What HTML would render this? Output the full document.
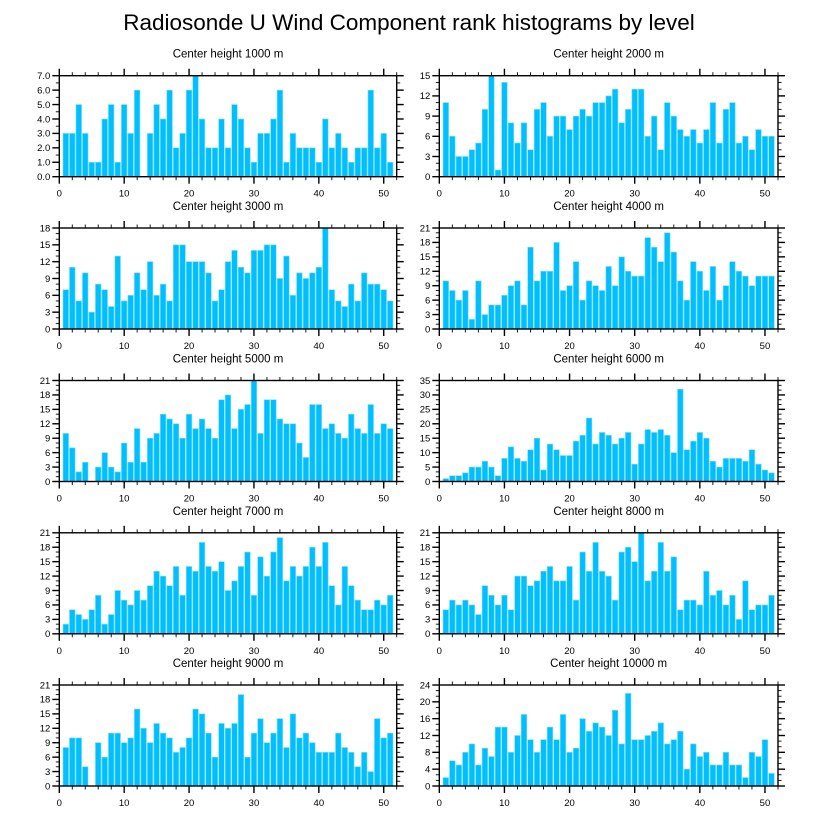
<!DOCTYPE html>
<html><head><meta charset="utf-8"><style>
body{margin:0;background:#fff;}
svg{display:block;font-family:"Liberation Sans",sans-serif;}
</style></head><body>
<svg id="chart" width="818" height="824">
<text x="409" y="30" text-anchor="middle" font-size="22.5">Radiosonde U Wind Component rank histograms by level</text>
</svg>
<script>
const levels = ["1000","2000","3000","4000","5000","6000","7000","8000","9000","10000"];
const yMax = [7,15,18,21,21,35,21,21,21,24];
const yStep = [1,3,3,3,3,5,3,3,3,4];
const h1000 = [3,3,5,3,1,1,4,5,1,5,3,6,0,3,5,4,6,2,3,6,7,4,2,2,4,2,5,4,2,1,3,3,4,6,1,3,2,2,2,1,4,2,3,2,1,2,2,6,2,3,1];
const h2000 = [11,6,3,3,4,5,10,15,1,14,8,5,8,4,10,11,6,9,9,7,9,10,9,11,11,12,13,8,10,13,13,6,9,4,11,9,7,6,7,5,7,11,5,10,11,5,6,4,7,6,6];
const h3000 = [7,11,5,10,3,8,7,4,13,5,6,10,7,12,6,8,5,15,15,12,12,12,10,5,7,12,14,11,10,14,14,15,15,9,13,6,10,9,10,11,18,7,5,4,8,5,10,8,8,7,5];
const h4000 = [10,8,6,8,2,10,3,5,5,7,9,10,5,17,10,12,12,18,8,9,14,6,10,9,8,13,9,15,12,11,11,19,17,14,20,16,10,6,14,12,8,13,6,9,14,12,11,9,11,11,11];
const h5000 = [10,7,2,4,0,3,6,3,2,8,4,11,4,9,10,14,13,12,9,14,11,13,11,9,17,18,11,15,16,21,10,17,17,13,12,12,8,5,16,16,11,12,10,9,14,11,10,16,10,12,11];
const h6000 = [1,2,2,3,5,5,7,5,2,8,12,8,7,11,15,4,13,11,9,9,14,16,22,13,17,16,13,15,17,6,13,18,17,18,16,10,32,11,14,17,15,7,5,8,8,8,7,11,6,4,3];
const h7000 = [2,5,4,3,5,8,2,4,9,7,6,9,7,10,13,12,10,14,8,14,13,19,14,13,15,9,11,14,17,8,16,12,17,20,11,14,12,14,18,14,19,10,6,14,10,7,5,5,7,6,8];
const h8000 = [5,7,6,7,6,4,10,8,6,8,5,12,12,10,11,13,14,11,11,14,7,17,13,19,13,12,7,17,18,15,21,11,13,19,13,16,5,7,7,6,13,8,9,6,8,3,11,5,6,6,8];
const h9000 = [8,10,10,4,0,9,6,11,11,9,10,16,12,9,13,11,10,7,8,10,16,15,11,6,13,12,13,19,6,11,14,9,11,14,8,15,10,11,9,7,7,7,11,8,7,4,7,3,14,10,11];
const h10000 = [2,6,5,8,10,5,9,7,14,14,8,12,17,11,8,11,14,11,17,8,9,16,13,15,14,12,18,10,22,11,11,12,13,15,10,11,13,4,10,7,8,5,5,8,5,5,2,8,7,11,3];
const xTicks = [0,10,20,30,40,50];
const allData = [h1000,h2000,h3000,h4000,h5000,h6000,h7000,h8000,h9000,h10000];

const NS="http://www.w3.org/2000/svg";
const svg=document.getElementById('chart');
function mk(tag,attrs,parent){const e=document.createElementNS(NS,tag);for(const k in attrs)e.setAttribute(k,attrs[k]);(parent||svg).appendChild(e);return e;}
const colX=[59.3,439.3], pw=[337.4,338.7], rowY=[75.7,228,380.5,532.8,685], ph=101;
const XMAX=52;
allData.forEach((data,i)=>{
  const col=i%2,row=Math.floor(i/2);
  const L=colX[col],T=rowY[row],W=pw[col],B=T+ph;
  const g=mk('g',{});
  
  
  const xs=v=>L+v/XMAX*W, ys=v=>B-v/yMax[i]*ph;
  const st=mk('text',{x:L+W/2,y:T-18,'text-anchor':'middle','font-size':'11.5'},g);
  st.textContent='Center height '+levels[i]+' m';
  
  
  const bw=0.86*W/XMAX;
  data.forEach((v,k)=>{
    if(v<=0)return;
    const r=mk('rect',{x:xs(k+1)-bw/2,y:ys(v),width:bw,height:B-ys(v),fill:'#00bfff',stroke:'#7fdcff','stroke-width':'0.6'},g);
    
    
  });
  const fr=mk('rect',{x:L,y:T,width:W,height:ph,fill:'none',stroke:'#000','stroke-width':'1.4'},g);
  
  
  for(let v=0;v<=XMAX;v+=2){
    const maj=v%10===0, len=maj?7:3.5, x=xs(v);
    mk('line',{x1:x,x2:x,y1:B,y2:B+len,stroke:'#000','stroke-width':maj?1.4:0.9},g);
    mk('line',{x1:x,x2:x,y1:T,y2:T-len,stroke:'#000','stroke-width':maj?1.4:0.9},g);
  }
  xTicks.forEach(v=>{
    const t=mk('text',{x:xs(v),y:B+20,'text-anchor':'middle','font-size':'9.5'},g);
    t.textContent=v;
    
    
  });
  const minor=yStep[i]/(i===0?2:3);
  for(let v=0;v<=yMax[i]+1e-9;v+=minor){
    const maj=Math.abs(v/yStep[i]-Math.round(v/yStep[i]))<1e-6, len=maj?7:3.5, y=ys(v);
    mk('line',{x1:L,x2:L-len,y1:y,y2:y,stroke:'#000','stroke-width':maj?1.4:0.9},g);
    mk('line',{x1:L+W,x2:L+W+len,y1:y,y2:y,stroke:'#000','stroke-width':maj?1.4:0.9},g);
  }
  for(let v=0;v<=yMax[i];v+=yStep[i]){
    const t=mk('text',{x:L-9,y:ys(v)+3.3,'text-anchor':'end','font-size':'9.5'},g);
    t.textContent=i===0?v.toFixed(1):v;
    
    
  }
});
</script>
</body></html>
